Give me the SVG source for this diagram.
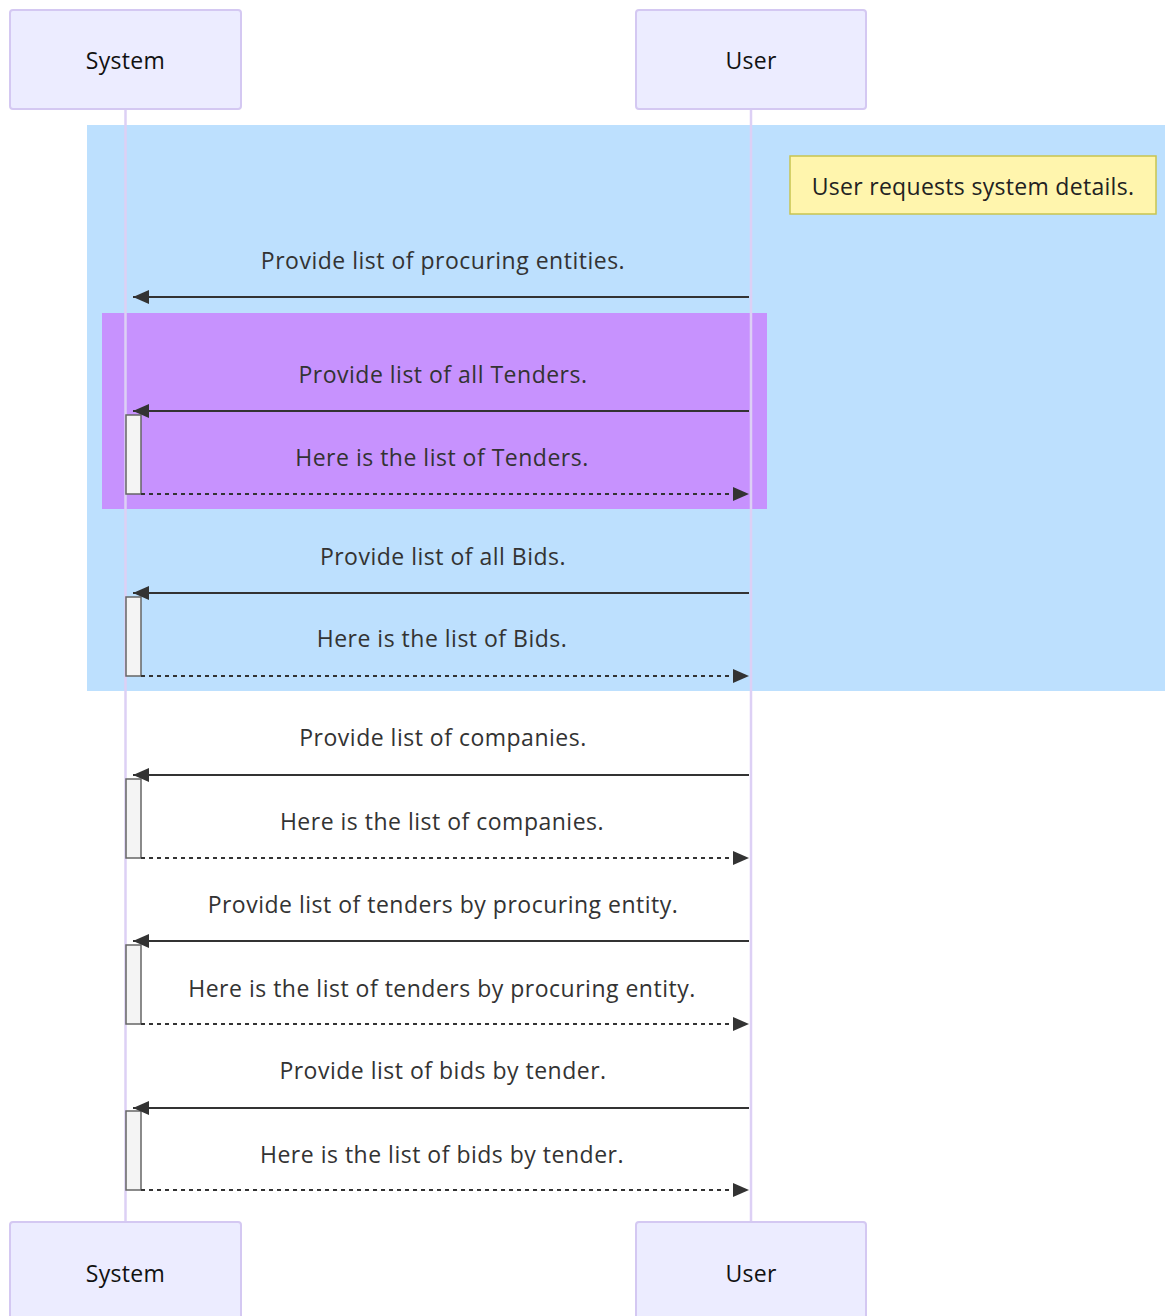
<svg xmlns="http://www.w3.org/2000/svg" width="1165" height="1316" viewBox="0 0 1165 1316">
  <defs>
    <style>
      .actor { fill: #ececff; stroke: #d4c8f2; stroke-width: 2; }
      .actor-label { font-family: "Open Sans", "Liberation Sans", sans-serif; font-size: 23px; letter-spacing: 0.3px; fill: #111; text-anchor: middle; dominant-baseline: central; }
      .lifeline { stroke: #ddd0f5; stroke-width: 2.5; }
      .msg { font-family: "Open Sans", "Liberation Sans", sans-serif; font-size: 23px; letter-spacing: 0.5px; fill: #333; text-anchor: middle; dominant-baseline: central; }
      .call { stroke: #333; stroke-width: 2; fill: none; }
      .reply { stroke: #333; stroke-width: 2; stroke-dasharray: 4 4; fill: none; }
      .activation { fill: #f4f4f4; stroke: #666; stroke-width: 1.5; }
      .note { fill: #fff5ad; stroke: #c8c450; stroke-width: 1.5; }
      .note-label { font-family: "Open Sans", "Liberation Sans", sans-serif; font-size: 23px; letter-spacing: 0.3px; fill: #222; text-anchor: middle; dominant-baseline: central; }
    </style>
    <marker id="head" markerWidth="16" markerHeight="14" refX="16" refY="7" orient="auto-start-reverse" markerUnits="userSpaceOnUse">
      <path d="M0,0 L16,7 L0,14 Z" fill="#333"/>
    </marker>
  </defs>

  <rect width="1165" height="1316" fill="#ffffff"/>

  <!-- rect blocks -->
  <rect id="block-outer" x="87" y="125" width="1078" height="566" fill="#bde0fe"/>
  <rect id="block-inner" x="102" y="313" width="665" height="196" fill="#c792fe"/>

  <!-- lifelines -->
  <g id="lifelines">
    <line class="lifeline" x1="125.5" y1="109" x2="125.5" y2="1222"/>
    <line class="lifeline" x1="751" y1="109" x2="751" y2="1222"/>
  </g>

  <!-- participants -->
  <g id="actor-system-top">
    <rect class="actor" x="10" y="10" width="231" height="99" rx="3"/>
    <text class="actor-label" x="125.5" y="60">System</text>
  </g>
  <g id="actor-user-top">
    <rect class="actor" x="636" y="10" width="230" height="99" rx="3"/>
    <text class="actor-label" x="751" y="60">User</text>
  </g>
  <g id="actor-system-bottom">
    <rect class="actor" x="10" y="1222" width="231" height="99" rx="3"/>
    <text class="actor-label" x="125.5" y="1273">System</text>
  </g>
  <g id="actor-user-bottom">
    <rect class="actor" x="636" y="1222" width="230" height="99" rx="3"/>
    <text class="actor-label" x="751" y="1273">User</text>
  </g>

  <!-- note -->
  <g id="note-details">
    <rect class="note" x="790" y="156" width="366" height="58"/>
    <text class="note-label" x="973" y="186">User requests system details.</text>
  </g>

  <!-- activations -->
  <g id="activations">
    <rect class="activation" x="126" y="415" width="15" height="79"/>
    <rect class="activation" x="126" y="597" width="15" height="79"/>
    <rect class="activation" x="126" y="779" width="15" height="79"/>
    <rect class="activation" x="126" y="945" width="15" height="79"/>
    <rect class="activation" x="126" y="1111" width="15" height="79"/>
  </g>

  <!-- messages -->
  <g id="connectors">
    <line class="call" x1="749" y1="297" x2="133" y2="297" marker-end="url(#head)"/>
    <line class="call" x1="749" y1="411" x2="133" y2="411" marker-end="url(#head)"/>
    <line class="reply" x1="141" y1="494" x2="749" y2="494" marker-end="url(#head)"/>
    <line class="call" x1="749" y1="593" x2="133" y2="593" marker-end="url(#head)"/>
    <line class="reply" x1="141" y1="676" x2="749" y2="676" marker-end="url(#head)"/>
    <line class="call" x1="749" y1="775" x2="133" y2="775" marker-end="url(#head)"/>
    <line class="reply" x1="141" y1="858" x2="749" y2="858" marker-end="url(#head)"/>
    <line class="call" x1="749" y1="941" x2="133" y2="941" marker-end="url(#head)"/>
    <line class="reply" x1="141" y1="1024" x2="749" y2="1024" marker-end="url(#head)"/>
    <line class="call" x1="749" y1="1108" x2="133" y2="1108" marker-end="url(#head)"/>
    <line class="reply" x1="141" y1="1190" x2="749" y2="1190" marker-end="url(#head)"/>
  </g>

  <g id="message-labels">
    <text class="msg" x="443" y="260">Provide list of procuring entities.</text>
    <text class="msg" x="443" y="374">Provide list of all Tenders.</text>
    <text class="msg" x="442" y="457">Here is the list of Tenders.</text>
    <text class="msg" x="443" y="556">Provide list of all Bids.</text>
    <text class="msg" x="442" y="638">Here is the list of Bids.</text>
    <text class="msg" x="443" y="737">Provide list of companies.</text>
    <text class="msg" x="442" y="821">Here is the list of companies.</text>
    <text class="msg" x="443" y="904">Provide list of tenders by procuring entity.</text>
    <text class="msg" x="442" y="988">Here is the list of tenders by procuring entity.</text>
    <text class="msg" x="443" y="1070">Provide list of bids by tender.</text>
    <text class="msg" x="442" y="1154">Here is the list of bids by tender.</text>
  </g>
</svg>
